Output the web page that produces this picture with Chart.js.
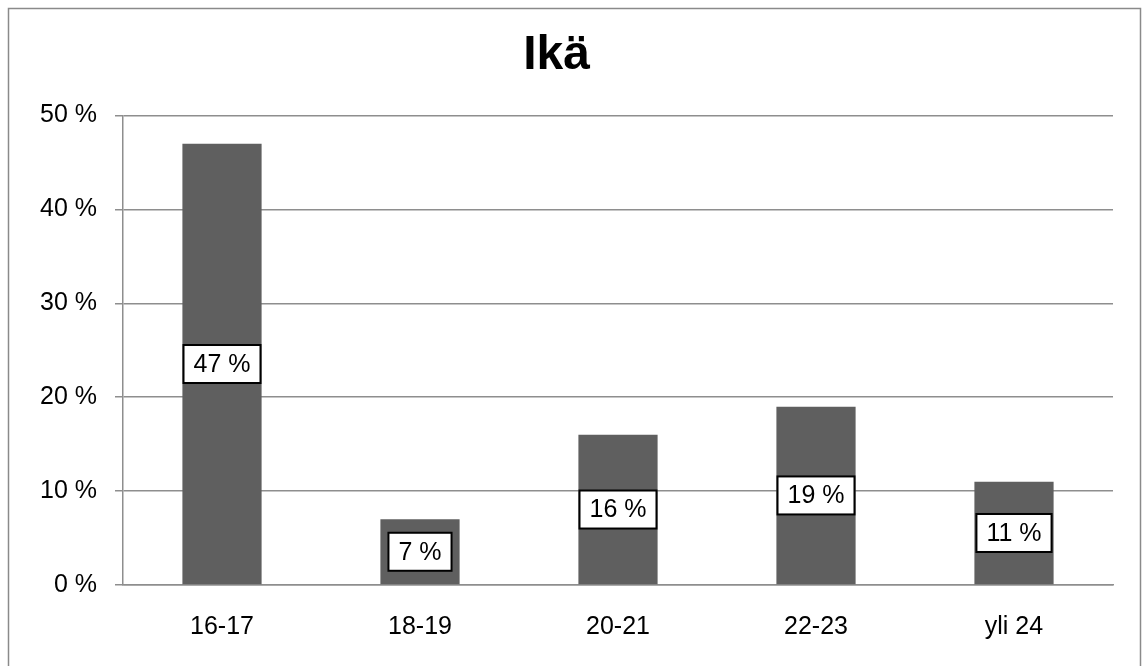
<!DOCTYPE html>
<html>
<head>
<meta charset="utf-8">
<script src="https://cdn.jsdelivr.net/npm/chart.js@4"></script>
<style>
  html,body{margin:0;padding:0;background:#fff;}
  #wrap{position:absolute;left:0;top:0;width:1142px;height:666px;}
</style>
</head>
<body>
<div id="wrap"><canvas id="chartIka" width="1142" height="666"></canvas></div>
<script>
// Ikä - vastaajien ikäjakauma
const ikaLuokat = ['16-17','18-19','20-21','22-23','yli 24'];
const osuudet = [47, 7, 16, 19, 11];
const yTicks = [0, 10, 20, 30, 40, 50];

const FONT = "'Liberation Sans', Arial, sans-serif";
const GRID = '#8e8e8e';

// kehys koko kaavion ympärille
const kehys = {
  id:'kehys',
  beforeDraw(chart){
    const c = chart.ctx;
    c.save();
    c.fillStyle = '#fff';
    c.fillRect(0,0,chart.width,chart.height);
    c.strokeStyle = '#8a8a8a';
    c.lineWidth = 1.5;
    c.strokeRect(8.5, 8.5, 1132, 700);
    c.restore();
  }
};

// arvolaatikot pylväiden keskelle
const arvoLaatikot = {
  id:'arvoLaatikot',
  afterDatasetsDraw(chart){
    const c = chart.ctx;
    const meta = chart.getDatasetMeta(0);
    c.save();
    c.font = '25px ' + FONT;
    c.textAlign = 'center';
    c.textBaseline = 'middle';
    meta.data.forEach((bar,i)=>{
      const txt = osuudet[i] + ' %';
      const w = c.measureText(txt).width + 20;
      const h = 38;
      const cx = bar.x, cy = (bar.y + bar.base)/2;
      c.fillStyle = '#fff';
      c.fillRect(cx-w/2, cy-h/2, w, h);
      c.strokeStyle = '#000';
      c.lineWidth = 2;
      c.strokeRect(cx-w/2, cy-h/2, w, h);
      c.fillStyle = '#000';
      c.fillText(txt, cx, cy+1);
    });
    c.restore();
  }
};

new Chart(document.getElementById('chartIka'),{
  type:'bar',
  data:{labels:ikaLuokat,datasets:[
    {label:'Ikä',data:osuudet,backgroundColor:'#5f5f5f',borderWidth:0,
     categoryPercentage:0.8,barPercentage:0.5}
  ]},
  options:{responsive:false,animation:false,
    layout:{padding:{left:0,right:29,top:0,bottom:0}},
    plugins:{
      legend:{display:false},
      tooltip:{enabled:false},
      title:{display:true,text:'Ikä',color:'#000',
        font:{family:FONT,size:48,weight:'bold',lineHeight:1.2},
        padding:{top:27,bottom:31}}
    },
    scales:{
      y:{min:0,max:50,
        afterBuildTicks:s=>{ s.ticks = yTicks.map(v=>({value:v})); },
        afterFit:s=>{ s.width = 123; },
        ticks:{color:'#000',padding:18,font:{family:FONT,size:25},callback:v=>v+' %'},
        grid:{color:GRID,lineWidth:1.5,tickLength:8},
        border:{display:true,color:GRID,width:1.5}
      },
      x:{
        afterFit:s=>{ s.height = 666-585; },
        ticks:{color:'#000',padding:27,font:{family:FONT,size:25}},
        grid:{display:false,drawTicks:false,tickLength:0},
        border:{display:true,color:GRID,width:1.5}
      }
    }
  },
  plugins:[kehys, arvoLaatikot]
});
</script>
</body>
</html>
